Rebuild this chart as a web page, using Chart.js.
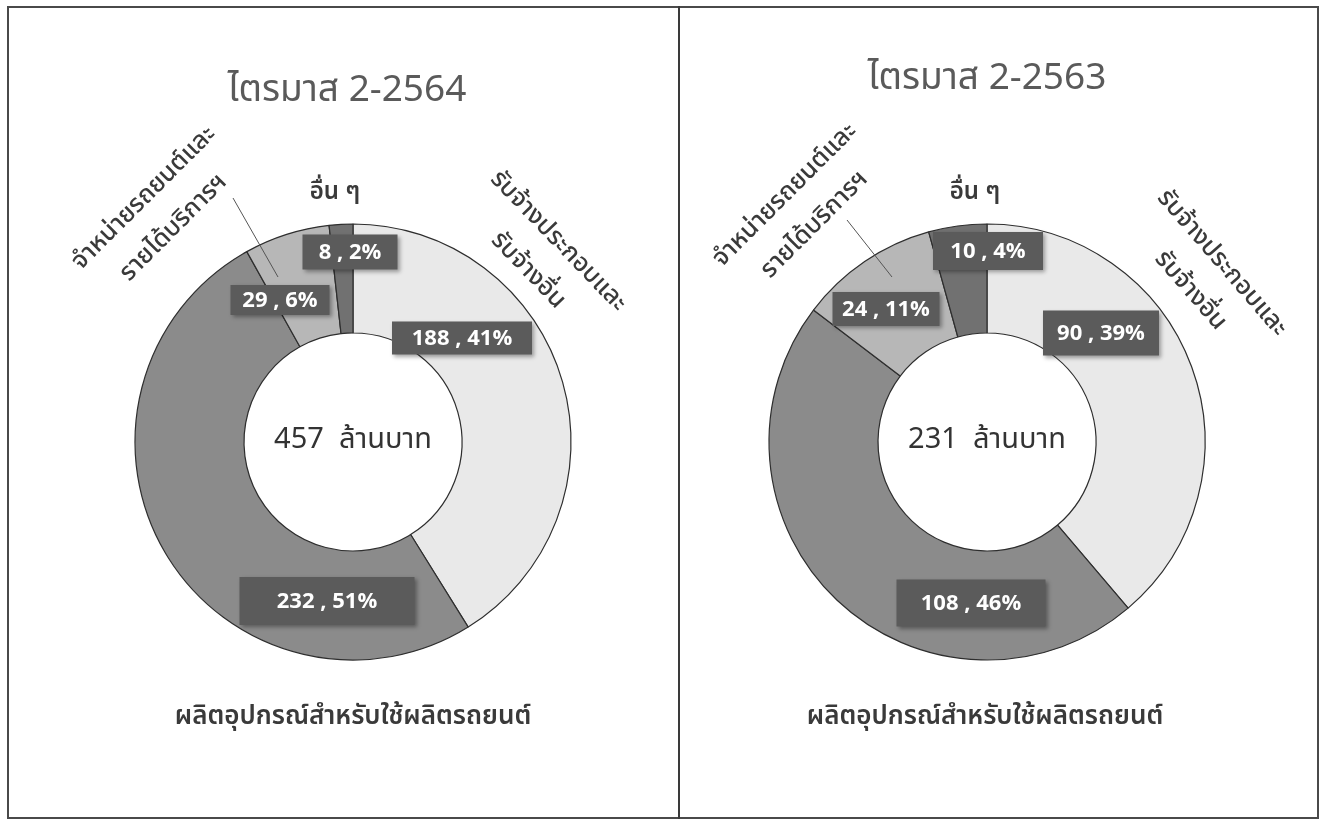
<!DOCTYPE html>
<html>
<head>
<meta charset="utf-8">
<script src="https://cdn.jsdelivr.net/npm/chart.js@4.4.1/dist/chart.umd.min.js"></script>
<style>
  html, body { margin:0; padding:0; background:#fff; width:1321px; height:821px; overflow:hidden; }
  #frame { position:absolute; left:7px; top:6px; width:1308px; height:809px; border:2px solid #4a4a4a; }
  #divider { position:absolute; left:678px; top:6px; width:2px; height:813px; background:#3a3a3a; }
  canvas { position:absolute; top:0; }
  #c1 { left:0; }
  #c2 { left:679px; }
</style>
</head>
<body>
<div id="frame"></div>
<div id="divider"></div>
<canvas id="c1" width="679" height="821"></canvas>
<canvas id="c2" width="642" height="821"></canvas>
<script>
// ---- data ----
const categories = ['รับจ้างประกอบและรับจ้างอื่น', 'ผลิตอุปกรณ์สำหรับใช้ผลิตรถยนต์', 'จำหน่ายรถยนต์และรายได้บริการฯ', 'อื่น ๆ'];
const categoryLines = [['รับจ้างประกอบและ', 'รับจ้างอื่น'], ['ผลิตอุปกรณ์สำหรับใช้ผลิตรถยนต์'], ['จำหน่ายรถยนต์และ', 'รายได้บริการฯ'], ['อื่น ๆ']];
const titles = ['ไตรมาส 2-2564', 'ไตรมาส 2-2563'];
const values2564 = [188, 232, 29, 8];
const percents2564 = [41, 51, 6, 2];
const values2563 = [90, 108, 24, 10];
const percents2563 = [39, 46, 11, 4];
const totals = [457, 231];
const unitText = 'ล้านบาท';

// ---- styles / layout ----
const sliceColors = ['#e9e9e9', '#8b8b8b', '#b7b7b7', '#717171'];
const THAI = '"Noto Sans Thai", "Noto Sans Thai UI", Tahoma, Loma, Garuda, "Noto Sans", "DejaVu Sans", sans-serif';

const layouts = [
  {
    title: { dx: -6, dy: -348 },
    boxes: [[109,-104,140,33], [-26,159,175,48], [-73,-142,99,30], [-3,-190,95,35]],
    cats: [[189,-185,46], [0,277,0], [-193,-228,-45], [-18,-248,0]],
    leader: [-120,-244,-75,-165]
  },
  {
    title: { dx: 0, dy: -360 },
    boxes: [[114,-109,116,45], [-16,161,149,47], [-101,-133,107,34], [1,-191,110,38]],
    cats: [[218,-164,49], [-2,277,0], [-186,-231,-45], [-12,-248,0]],
    leader: [-140,-222,-95,-165]
  }
];

const decoPlugin = {
  id: 'deco',
  afterDraw(chart, args, opts) {
    const ctx = chart.ctx;
    const meta = chart.getDatasetMeta(0);
    const cx = meta.data[0].x, cy = meta.data[0].y;
    const L = layouts[opts.idx];
    const vals = chart.data.datasets[0].data;
    const pcts = opts.percents;

    // title
    ctx.save();
    ctx.fillStyle = '#5a5a5a';
    ctx.font = '37px ' + THAI;
    ctx.textAlign = 'center';
    ctx.textBaseline = 'middle';
    ctx.fillText(opts.title, cx + L.title.dx, cy + L.title.dy);
    ctx.restore();

    // center total
    ctx.save();
    ctx.fillStyle = '#333';
    ctx.font = '29px ' + THAI;
    ctx.textAlign = 'center';
    ctx.textBaseline = 'middle';
    ctx.fillText(opts.total + '  ' + unitText, cx, cy);
    ctx.restore();

    // leader line
    ctx.save();
    ctx.strokeStyle = '#555';
    ctx.lineWidth = 1;
    ctx.beginPath();
    ctx.moveTo(cx + L.leader[0], cy + L.leader[1]);
    ctx.lineTo(cx + L.leader[2], cy + L.leader[3]);
    ctx.stroke();
    ctx.restore();

    // category labels
    L.cats.forEach((c, i) => {
      const lines = categoryLines[i];
      ctx.save();
      ctx.translate(cx + c[0], cy + c[1]);
      ctx.rotate(c[2] * Math.PI / 180);
      ctx.fillStyle = '#3a3a3a';
      ctx.font = (i === 1 ? '600 26px ' : i === 3 ? '600 24px ' : '500 25px ') + THAI;
      ctx.textAlign = 'center';
      ctx.textBaseline = 'middle';
      const gap = 42;
      lines.forEach((t, k) => ctx.fillText(t, 0, (k - (lines.length - 1) / 2) * gap));
      ctx.restore();
    });

    // value boxes
    L.boxes.forEach((b, i) => {
      const x = cx + b[0], y = cy + b[1], w = b[2], h = b[3];
      ctx.save();
      ctx.shadowColor = 'rgba(0,0,0,0.35)';
      ctx.shadowBlur = 4;
      ctx.shadowOffsetX = 2;
      ctx.shadowOffsetY = 2;
      ctx.fillStyle = '#5b5b5b';
      ctx.fillRect(x - w / 2, y - h / 2, w, h);
      ctx.restore();
      ctx.save();
      ctx.fillStyle = '#ffffff';
      ctx.font = 'bold 22px "Open Sans", "DejaVu Sans", sans-serif';
      ctx.textAlign = 'center';
      ctx.textBaseline = 'middle';
      ctx.fillText(vals[i] + ' , ' + pcts[i] + '%', x, y + 1);
      ctx.restore();
    });
  }
};

function makeChart(id, values, percents, idx, pad) {
  return new Chart(document.getElementById(id), {
    type: 'doughnut',
    data: {
      labels: categories,
      datasets: [{
        data: values,
        backgroundColor: sliceColors,
        borderColor: '#2e2e2e',
        borderWidth: 1.2,
        hoverOffset: 0
      }]
    },
    options: {
      responsive: false,
      animation: false,
      events: [],
      radius: 218,
      cutout: '50%',
      rotation: 0,
      layout: { padding: pad },
      plugins: {
        legend: { display: false },
        tooltip: { enabled: false },
        title: { display: false },
        deco: { idx: idx, title: titles[idx], total: totals[idx], percents: percents }
      }
    },
    plugins: [decoPlugin]
  });
}

makeChart('c1', values2564, percents2564, 0, { left: 27, right: 0, top: 63, bottom: 0 });
makeChart('c2', values2563, percents2563, 1, { left: 0, right: 26, top: 63, bottom: 0 });
</script>
</body>
</html>
